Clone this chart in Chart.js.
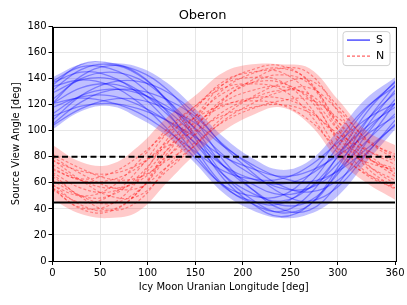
<!DOCTYPE html>
<html>
<head>
<meta charset="utf-8">
<script src="https://cdn.jsdelivr.net/npm/chart.js@4.4.1/dist/chart.umd.min.js"></script>
<style>
  html, body { margin: 0; padding: 0; background: #fff; }
  #wrap { width: 407px; height: 305px; }
</style>
</head>
<body>
<div id="wrap"><canvas id="chart" width="407" height="305"></canvas></div>
<script>
// longitude samples [deg]
const lon = [0, 30, 60, 90, 120, 150, 180, 210, 240, 270, 300, 330, 360];

// S (south source) view angle traces
const sTraces = [
  [111, 119, 121, 117, 108, 95, 80, 71, 65, 69, 81, 97, 111],
  [131, 147, 151, 143, 124, 97, 66, 47, 37, 43, 69, 103, 131],
  [134, 139, 135, 122, 102, 79, 58, 50, 50, 66, 93, 118, 134],
  [108, 127, 137, 138, 130, 113, 88, 68, 52, 46, 57, 82, 108],
  [138, 149, 148, 136, 115, 86, 58, 44, 38, 51, 81, 114, 138],
  [104, 117, 124, 124, 117, 106, 88, 74, 64, 61, 69, 86, 104],
  [121, 142, 150, 146, 132, 108, 77, 55, 40, 39, 59, 91, 121],
  [121, 125, 122, 114, 100, 84, 69, 63, 63, 73, 91, 109, 121],
  [129, 139, 140, 131, 113, 90, 66, 52, 46, 56, 80, 108, 129],
  [113, 127, 132, 129, 119, 102, 81, 66, 56, 56, 70, 92, 113],
  [121, 133, 136, 130, 116, 96, 73, 59, 51, 56, 75, 100, 121],
  [135, 151, 152, 144, 123, 94, 63, 44, 34, 43, 72, 107, 135],
  [118, 126, 127, 120, 108, 91, 73, 63, 59, 66, 83, 103, 118],
  [124, 140, 145, 140, 124, 101, 73, 55, 43, 46, 67, 97, 124],
  [105, 122, 131, 131, 124, 111, 89, 72, 58, 53, 62, 83, 105],
  [137, 145, 142, 129, 108, 82, 57, 46, 44, 59, 88, 117, 137]
];
// S band edges
const sLow  = [101, 115, 119, 110, 96, 75, 52, 39, 33, 36, 50, 76, 101];
const sHigh = [141, 151, 152, 149, 137, 117, 95, 79, 70, 77, 100, 125, 141];

// N (north source) view angle traces
const nTraces = [
  [77, 69, 67, 74, 88, 100, 112, 118, 120, 114, 98, 85, 77],
  [59, 43, 39, 53, 82, 108, 132, 144, 148, 138, 104, 75, 59],
  [58, 50, 56, 76, 101, 119, 133, 136, 132, 113, 83, 67, 58],
  [78, 62, 50, 50, 69, 89, 111, 126, 136, 139, 119, 93, 78],
  [55, 41, 43, 62, 93, 117, 138, 145, 145, 128, 92, 68, 55],
  [82, 71, 63, 64, 77, 91, 107, 117, 123, 124, 110, 92, 82],
  [67, 49, 39, 46, 72, 98, 124, 139, 148, 144, 115, 84, 67],
  [70, 63, 67, 80, 98, 110, 120, 123, 120, 108, 87, 76, 70],
  [62, 50, 50, 65, 90, 111, 129, 137, 137, 124, 95, 74, 62],
  [74, 62, 56, 61, 80, 97, 115, 125, 131, 128, 107, 86, 74],
  [68, 56, 53, 63, 85, 104, 122, 131, 134, 126, 101, 80, 68],
  [56, 40, 38, 53, 85, 111, 136, 147, 150, 137, 101, 72, 56],
  [71, 62, 62, 72, 91, 106, 119, 125, 125, 116, 95, 79, 71],
  [65, 50, 44, 54, 79, 103, 125, 137, 143, 136, 107, 81, 65],
  [80, 67, 57, 56, 72, 89, 108, 121, 130, 133, 116, 94, 80],
  [56, 45, 50, 70, 98, 119, 136, 141, 138, 119, 86, 66, 56]
];
// N band edges
const nLow  = [47, 36, 33, 38, 60, 82, 100, 112, 118, 105, 78, 60, 47];
const nHigh = [89, 76, 74, 88, 110, 127, 145, 151, 151, 148, 124, 100, 89];

// reference view angles [deg]
const refLevels = [80, 60, 45];

const xy = arr => arr.map((v, i) => ({ x: lon[i], y: v }));

const datasets = [];

// blue band
datasets.push({ label: '_sLow', data: xy(sLow), borderWidth: 0, pointRadius: 0, fill: false, tension: 0.4, order: 5 });
datasets.push({ label: '_sHigh', data: xy(sHigh), borderWidth: 0, pointRadius: 0, fill: '-1', backgroundColor: 'rgba(60,60,255,0.32)', tension: 0.4, order: 5 });
sTraces.forEach((t, i) => datasets.push({
  label: i === 0 ? 'S' : '_S' + i, data: xy(t),
  borderColor: 'rgba(0,0,255,0.36)', borderWidth: 1.3, pointRadius: 0, fill: false, tension: 0.4, order: 4
}));

// red band
datasets.push({ label: '_nLow', data: xy(nLow), borderWidth: 0, pointRadius: 0, fill: false, tension: 0.4, order: 3 });
datasets.push({ label: '_nHigh', data: xy(nHigh), borderWidth: 0, pointRadius: 0, fill: '-1', backgroundColor: 'rgba(255,50,50,0.26)', tension: 0.4, order: 3 });
nTraces.forEach((t, i) => datasets.push({
  label: i === 0 ? 'N' : '_N' + i, data: xy(t),
  borderColor: 'rgba(255,0,0,0.38)', borderWidth: 1.2, borderDash: [3, 2], pointRadius: 0, fill: false, tension: 0.4, order: 2
}));

// horizontal reference lines
refLevels.forEach((lvl, i) => datasets.push({
  label: '_ref' + lvl, data: [{ x: lon[0], y: lvl }, { x: lon[lon.length - 1], y: lvl }],
  borderColor: '#000', borderWidth: 2, borderDash: i === 0 ? [6, 3.5] : [], pointRadius: 0, fill: false, order: 0
}));

// top/right spines and legend box, matplotlib style
const framePlugin = {
  id: 'frame',
  afterDraw(chart) {
    const { ctx, chartArea: a } = chart;
    ctx.save();
    ctx.strokeStyle = '#000';
    ctx.lineWidth = 1;
    ctx.strokeRect(Math.round(a.left) + 0.5, Math.round(a.top) + 0.5, Math.round(a.right - a.left), Math.round(a.bottom - a.top));

    // legend
    const x0 = a.right - 52, y0 = a.top + 5, w = 47, h = 34;
    ctx.beginPath();
    ctx.roundRect(x0, y0, w, h, 3);
    ctx.fillStyle = 'rgba(255,255,255,0.85)';
    ctx.fill();
    ctx.strokeStyle = '#d0d0d0';
    ctx.stroke();

    ctx.lineWidth = 1.5;
    ctx.strokeStyle = 'rgba(60,60,255,0.9)';
    ctx.beginPath(); ctx.moveTo(x0 + 4, y0 + 8.5); ctx.lineTo(x0 + 27, y0 + 8.5); ctx.stroke();
    ctx.strokeStyle = 'rgba(255,40,40,0.9)';
    ctx.lineWidth = 1;
    ctx.setLineDash([3, 2]);
    ctx.beginPath(); ctx.moveTo(x0 + 4, y0 + 24.5); ctx.lineTo(x0 + 27, y0 + 24.5); ctx.stroke();
    ctx.setLineDash([]);

    ctx.fillStyle = '#000';
    ctx.font = '11px "DejaVu Sans"';
    ctx.textBaseline = 'middle';
    ctx.fillText('S', x0 + 33, y0 + 9);
    ctx.fillText('N', x0 + 33, y0 + 25);
    ctx.restore();
  }
};

Chart.defaults.font.family = '"DejaVu Sans", sans-serif';
Chart.defaults.color = '#000';

new Chart(document.getElementById('chart'), {
  type: 'line',
  data: { datasets },
  options: {
    responsive: false,
    animation: false,
    layout: { padding: { left: 10, right: 12, top: 0, bottom: 12 } },
    plugins: {
      legend: { display: false },
      tooltip: { enabled: false },
      title: { display: true, text: 'Oberon', font: { size: 13, weight: 'normal' }, padding: { top: 8, bottom: 3 } }
    },
    scales: {
      x: {
        type: 'linear', min: 0, max: 360,
        ticks: { stepSize: 50, font: { size: 10 }, padding: 2, maxRotation: 0 },
        grid: { color: '#e6e6e6', tickColor: '#000', tickLength: 4 },
        border: { color: '#000' },
        title: { display: true, text: 'Icy Moon Uranian Longitude [deg]', font: { size: 10 }, padding: { top: 2, bottom: 0 } },
        afterFit: s => { s.height = 32; }
      },
      y: {
        min: 0, max: 180,
        ticks: { stepSize: 20, font: { size: 10 }, padding: 2 },
        grid: { color: '#e6e6e6', tickColor: '#000', tickLength: 4 },
        border: { color: '#000' },
        title: { display: true, text: 'Source View Angle [deg]', font: { size: 10 }, padding: { top: 0, bottom: 2 } },
        afterFit: s => { s.width = 42.5; }
      }
    }
  },
  plugins: [framePlugin]
});
</script>
</body>
</html>
